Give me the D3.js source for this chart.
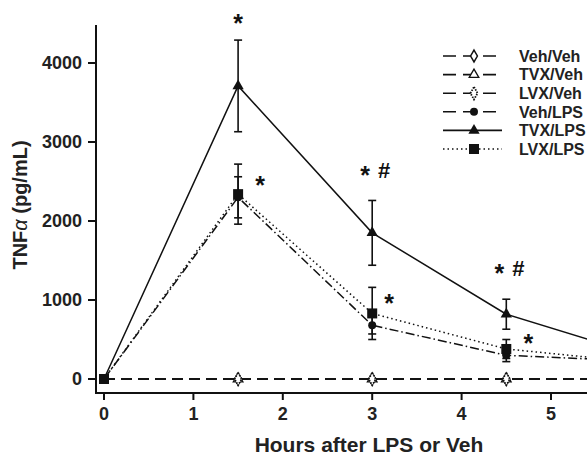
<!DOCTYPE html>
<html>
<head>
<meta charset="utf-8">
<script src="https://cdn.jsdelivr.net/npm/d3@7"></script>
<style>
  body { margin: 0; background: #fff; }
  svg { display: block; font-family: "Liberation Sans", Arial, sans-serif; }
</style>
</head>
<body>
<div id="chart"></div>
<script>
// time points (hours)
const hours = [0, 1.5, 3, 4.5, 6];

// series means and SEM (pg/mL)
const vehVeh = [0, 0, 0, 0, 0];
const tvxVeh = [0, 0, 0, 0, 0];
const lvxVeh = [0, 0, 0, 0, 0];
const vehLps = [0, 2300, 680, 300, 225];
const tvxLps = [0, 3710, 1850, 820, 300];
const lvxLps = [0, 2340, 830, 380, 210];

const vehLpsErr = [0, 260, 110, 80, 0];
const tvxLpsErr = [0, 580, 410, 190, 0];
const lvxLpsErr = [0, 380, 330, 120, 0];

const seriesNames = ['Veh/Veh', 'TVX/Veh', 'LVX/Veh', 'Veh/LPS', 'TVX/LPS', 'LVX/LPS'];
const xTicks = [0, 1, 2, 3, 4, 5];
const yTicks = [0, 1000, 2000, 3000, 4000];

// significance marks: [hour, value at mark centre, x offset px, with #]
const marks = [
  [1.5, 4570, 0, false],
  [1.5, 2520, 22, false],
  [3, 2645, -7, true],
  [3, 1025, 17, false],
  [4.5, 1405, -7, true],
  [4.5, 520, 22, false]
];

const W = 587, H = 457;
const svg = d3.select('#chart').append('svg').attr('width', W).attr('height', H);

const x = d3.scaleLinear().domain([0, 5]).range([104, 551]);
const y = d3.scaleLinear().domain([0, 4000]).range([379, 63]);

const axisLeft = 96, axisBottom = 393, axisTop = 25;

svg.append('clipPath').attr('id', 'plot')
  .append('rect').attr('x', axisLeft).attr('y', 0).attr('width', W - axisLeft).attr('height', axisBottom);

const series = [
  { name: seriesNames[0], vals: vehVeh, err: null, dash: '11,6', marker: 'diamondOpen' },
  { name: seriesNames[1], vals: tvxVeh, err: null, dash: '11,6', marker: 'triOpen' },
  { name: seriesNames[2], vals: lvxVeh, err: null, dash: '11,6', marker: 'diamondDot' },
  { name: seriesNames[3], vals: vehLps, err: vehLpsErr, dash: '9,3,1.5,3', marker: 'circle' },
  { name: seriesNames[4], vals: tvxLps, err: tvxLpsErr, dash: null, marker: 'tri' },
  { name: seriesNames[5], vals: lvxLps, err: lvxLpsErr, dash: '1.5,3', marker: 'square' }
];

function drawMarker(g, type, cx, cy) {
  if (type === 'circle') {
    g.append('circle').attr('cx', cx).attr('cy', cy).attr('r', 4).attr('fill', '#111');
  } else if (type === 'square') {
    g.append('rect').attr('x', cx - 5).attr('y', cy - 5).attr('width', 10).attr('height', 10).attr('fill', '#111');
  } else if (type === 'tri') {
    g.append('path').attr('d', d3.symbol(d3.symbolTriangle, 55)()).attr('transform', `translate(${cx},${cy})`).attr('fill', '#111');
  } else if (type === 'triOpen') {
    g.append('path').attr('d', d3.symbol(d3.symbolTriangle, 40)()).attr('transform', `translate(${cx},${cy})`)
      .attr('fill', '#fff').attr('stroke', '#111').attr('stroke-width', 1.3);
  } else if (type === 'diamondOpen') {
    g.append('path').attr('d', d3.symbol(d3.symbolDiamond, 40)()).attr('transform', `translate(${cx},${cy})`)
      .attr('fill', '#fff').attr('stroke', '#111').attr('stroke-width', 1.5);
  } else if (type === 'diamondDot') {
    g.append('path').attr('d', d3.symbol(d3.symbolDiamond, 45)()).attr('transform', `translate(${cx},${cy})`)
      .attr('fill', '#fff').attr('stroke', '#111').attr('stroke-width', 1.8).attr('stroke-dasharray', '1.5,1.2');
  }
}

const plot = svg.append('g').attr('clip-path', 'url(#plot)');
const line = d3.line().x((d, i) => x(hours[i])).y(d => y(d));

// error bars
series.forEach(s => {
  if (!s.err) return;
  s.vals.forEach((v, i) => {
    const e = s.err[i];
    if (!e) return;
    const cx = x(hours[i]);
    const g = plot.append('g').attr('stroke', '#111').attr('stroke-width', 1.6);
    g.append('line').attr('x1', cx).attr('x2', cx).attr('y1', y(v - e)).attr('y2', y(v + e));
    g.append('line').attr('x1', cx - 4).attr('x2', cx + 4).attr('y1', y(v - e)).attr('y2', y(v - e));
    g.append('line').attr('x1', cx - 4).attr('x2', cx + 4).attr('y1', y(v + e)).attr('y2', y(v + e));
  });
});

// lines and markers
series.forEach(s => {
  plot.append('path').datum(s.vals).attr('d', line)
    .attr('fill', 'none').attr('stroke', '#111').attr('stroke-width', 1.5)
    .attr('stroke-dasharray', s.dash);
});
series.forEach(s => {
  const g = plot.append('g');
  s.vals.forEach((v, i) => {
    if (hours[i] === 0 && s.marker !== 'square') return;
    drawMarker(g, s.marker, x(hours[i]), y(v));
  });
});

// axes
const ax = svg.append('g').attr('stroke', '#111').attr('stroke-width', 2);
ax.append('line').attr('x1', axisLeft).attr('x2', axisLeft).attr('y1', axisTop).attr('y2', axisBottom + 1);
ax.append('line').attr('x1', axisLeft - 1).attr('x2', W).attr('y1', axisBottom).attr('y2', axisBottom);

yTicks.forEach(t => {
  ax.append('line').attr('x1', axisLeft - 8).attr('x2', axisLeft).attr('y1', y(t)).attr('y2', y(t));
  svg.append('text').attr('x', axisLeft - 14).attr('y', y(t)).attr('dy', '0.36em')
    .attr('text-anchor', 'end').attr('font-size', 18).attr('font-weight', 'bold').attr('fill', '#222').text(t);
});
xTicks.forEach(t => {
  ax.append('line').attr('x1', x(t)).attr('x2', x(t)).attr('y1', axisBottom).attr('y2', axisBottom + 7);
  svg.append('text').attr('x', x(t)).attr('y', 420)
    .attr('text-anchor', 'middle').attr('font-size', 18).attr('font-weight', 'bold').attr('fill', '#222').text(t);
});

svg.append('text').attr('x', 369).attr('y', 452).attr('text-anchor', 'middle')
  .attr('font-size', 21).attr('font-weight', 'bold').attr('fill', '#222').text('Hours after LPS or Veh');
const yTitle = svg.append('text').attr('transform', 'translate(27,205) rotate(-90)').attr('text-anchor', 'middle')
  .attr('font-size', 20).attr('font-weight', 'bold').attr('fill', '#222');
yTitle.append('tspan').text('TNF');
yTitle.append('tspan').attr('font-style', 'italic').attr('font-weight', 'normal').text('α');
yTitle.append('tspan').text(' (pg/mL)');

// significance marks
marks.forEach(([h, v, dx, hash]) => {
  const cx = x(h) + dx, cy = y(v);
  svg.append('text').attr('x', cx).attr('y', cy + 14).attr('text-anchor', 'middle')
    .attr('font-size', 25).attr('font-weight', 'bold').attr('fill', '#111').text('*');
  if (hash) {
    svg.append('text').attr('x', cx + 19).attr('y', cy + 8).attr('text-anchor', 'middle')
      .attr('font-size', 22).attr('font-weight', 'bold').attr('fill', '#111').text('#');
  }
});

// legend
const legend = svg.append('g');
series.forEach((s, i) => {
  const ly = 56 + i * 18.6;
  legend.append('line').attr('x1', 443).attr('x2', 502).attr('y1', ly).attr('y2', ly)
    .attr('stroke', '#111').attr('stroke-width', 1.6).attr('stroke-dasharray', s.dash ? (i < 4 ? '13,7' : s.dash) : null);
  drawMarker(legend, s.marker, 474, ly);
  legend.append('text').attr('x', 519).attr('y', ly).attr('dy', '0.36em')
    .attr('font-size', 16).attr('font-weight', 'bold').attr('fill', '#222').text(s.name);
});
</script>
</body>
</html>
